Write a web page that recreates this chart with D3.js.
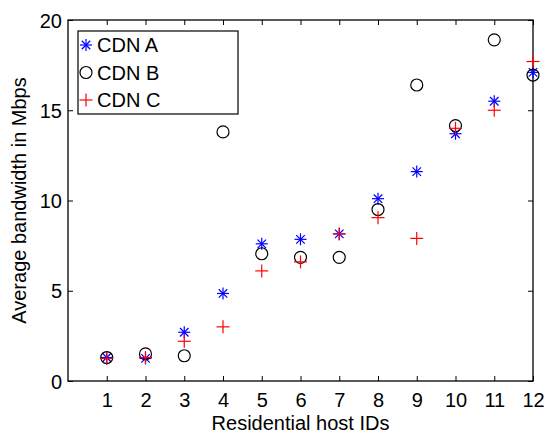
<!DOCTYPE html>
<html>
<head>
<meta charset="utf-8">
<script src="https://cdn.jsdelivr.net/npm/d3@7"></script>
<style>
  body { margin: 0; background: #fff; }
  text { font-family: "Liberation Sans", Arial, sans-serif; }
</style>
</head>
<body>
<div id="chart"></div>
<script>
const hosts = [1, 2, 3, 4, 5, 6, 7, 8, 9, 10, 11, 12];
const cdnA = [1.3, 1.25, 2.7, 4.85, 7.6, 7.85, 8.15, 10.1, 11.6, 13.7, 15.5, 17.1];
const cdnB = [1.3, 1.5, 1.4, 13.8, 7.05, 6.85, 6.85, 9.5, 16.4, 14.15, 18.9, 16.95];
const cdnC = [1.25, 1.3, 2.2, 3.0, 6.1, 6.6, 8.15, 9.05, 7.9, 14.0, 15.0, 17.7];
const yTicks = [0, 5, 10, 15, 20];
const legendNames = ['CDN A', 'CDN B', 'CDN C'];

const width = 548, height = 435;
const margin = { top: 20, right: 15, bottom: 54, left: 68 };
const innerWidth = width - margin.left - margin.right;
const innerHeight = height - margin.top - margin.bottom;

const svg = d3.select('#chart').append('svg')
    .attr('width', width).attr('height', height);
const frame = svg.append('g')
    .attr('transform', 'translate(' + margin.left + ',' + margin.top + ')');

const x = d3.scaleLinear().domain([0, 12]).range([0, innerWidth]);
const y = d3.scaleLinear().domain([0, 20]).range([innerHeight, 0]);

const fontSize = '20px';

// axes, matlab style: ticks inside, box all round
const xAxis = d3.axisBottom(x).tickValues(hosts).tickSizeInner(-5).tickSizeOuter(0).tickPadding(12);
const yAxis = d3.axisLeft(y).tickValues(yTicks).tickSizeInner(-5).tickSizeOuter(0).tickPadding(6);

const gX = frame.append('g').attr('transform', 'translate(0,' + innerHeight + ')').call(xAxis);
const gY = frame.append('g').call(yAxis);
frame.append('g').call(d3.axisTop(x).tickValues(hosts).tickSizeInner(-5).tickSizeOuter(0).tickFormat(''));
frame.append('g').attr('transform', 'translate(' + innerWidth + ',0)')
    .call(d3.axisRight(y).tickValues(yTicks).tickSizeInner(-5).tickSizeOuter(0).tickFormat(''));

frame.selectAll('.domain').remove();
frame.selectAll('.tick line').attr('stroke', '#000');
frame.selectAll('.tick text').attr('fill', '#000').style('font-size', fontSize);
gY.selectAll('.tick text').attr('dy', '0.35em');

frame.append('rect')
    .attr('width', innerWidth).attr('height', innerHeight)
    .attr('fill', 'none').attr('stroke', '#000').attr('stroke-width', 1.3);

// axis labels
svg.append('text')
    .attr('x', margin.left + innerWidth / 2).attr('y', 430)
    .attr('text-anchor', 'middle').style('font-size', fontSize)
    .text('Residential host IDs');
svg.append('text')
    .attr('transform', 'translate(26,' + (margin.top + innerHeight / 2) + ') rotate(-90)')
    .attr('text-anchor', 'middle').style('font-size', fontSize)
    .text('Average bandwidth in Mbps');

// marker shapes
function star(g, s) {
  const r = 6;
  for (let a = 0; a < 4; a++) {
    const ang = a * Math.PI / 4;
    g.append('line')
      .attr('x1', -r * Math.cos(ang)).attr('y1', -r * Math.sin(ang))
      .attr('x2', r * Math.cos(ang)).attr('y2', r * Math.sin(ang))
      .attr('stroke', s).attr('stroke-width', 1.2);
  }
}
function circle(g, s) {
  g.append('circle').attr('r', 6).attr('fill', 'none').attr('stroke', s).attr('stroke-width', 1.2);
}
function plus(g, s) {
  const r = 6.5;
  g.append('line').attr('x1', -r).attr('x2', r).attr('y1', 0).attr('y2', 0).attr('stroke', s).attr('stroke-width', 1.2);
  g.append('line').attr('y1', -r).attr('y2', r).attr('x1', 0).attr('x2', 0).attr('stroke', s).attr('stroke-width', 1.2);
}

const series = [
  { name: legendNames[0], values: cdnA, color: '#0000ff', draw: star },
  { name: legendNames[1], values: cdnB, color: '#000000', draw: circle },
  { name: legendNames[2], values: cdnC, color: '#ff0000', draw: plus }
];

series.forEach(s => {
  const g = frame.append('g');
  g.selectAll('g').data(hosts).enter().append('g')
    .attr('transform', (d, i) => 'translate(' + x(d) + ',' + y(s.values[i]) + ')')
    .each(function() { s.draw(d3.select(this), s.color); });
});

// legend
const legend = frame.append('g').attr('transform', 'translate(10,11)');
legend.append('rect').attr('width', 160).attr('height', 83)
    .attr('fill', '#fff').attr('stroke', '#000').attr('stroke-width', 1.2);
series.forEach((s, i) => {
  const row = legend.append('g').attr('transform', 'translate(8,' + (14 + i * 27.5) + ')');
  s.draw(row, s.color);
  row.append('text').attr('x', 11).attr('dy', '0.35em').style('font-size', fontSize).text(s.name);
});
</script>
</body>
</html>
